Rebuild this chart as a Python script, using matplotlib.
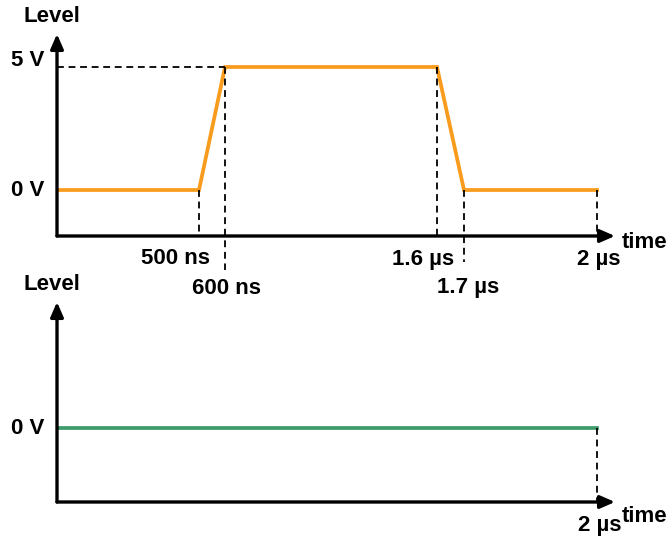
import numpy as np
import matplotlib
matplotlib.use("Agg")
import matplotlib.pyplot as plt
from matplotlib.scale import FuncScale

plt.rcParams["font.family"] = ["Liberation Sans", "DejaVu Sans"]
plt.rcParams["font.weight"] = "bold"
plt.rcParams["font.size"] = 16

# signal A: trapezoid pulse, signal B: held low
times_a = [0, 500, 600, 1600, 1700, 2000]      # ns
level_a = [0, 0, 5, 5, 0, 0]                   # V
times_b = [0, 2000]
level_b = [0, 0]

tick_times = [500, 600, 1600, 1700, 2000]
tick_labels = ["500 ns", "600 ns", "1.6 µs", "1.7 µs", "2 µs"]

ORANGE = "#F99B1C"
GREEN = "#3F9A6C"

# the time axis is drawn "not to scale": piecewise linear between events
knot_t = np.array([-2000, 0, 500, 600, 1600, 1700, 2000, 4000], float)
knot_u = np.array([-568, 0, 142, 168, 380, 407, 540, 1426], float)


def fwd(t):
    return np.interp(t, knot_t, knot_u)


def inv(u):
    return np.interp(u, knot_u, knot_t)


W, H = 670, 536
fig = plt.figure(figsize=(W / 100, H / 100), dpi=100)


def make_axes(y_axis_px, y_top_px, y_zero_px, px_per_volt=24.6):
    ax = fig.add_axes([57 / W, (H - y_axis_px) / H, 558 / W,
                       (y_axis_px - y_top_px) / H])
    ax.set_xscale(FuncScale(ax, (fwd, inv)))
    ax.set_xlim(0, inv(558))
    ax.set_ylim(-(y_axis_px - y_zero_px) / px_per_volt,
                (y_zero_px - y_top_px) / px_per_volt)
    ax.axis("off")
    arrow = dict(arrowstyle="-|>,head_length=0.55,head_width=0.24",
                 mutation_scale=16, lw=2.4, color="black",
                 shrinkA=0, shrinkB=0)
    ax.annotate("", xy=(0, 1), xytext=(0, 0), xycoords="axes fraction",
                arrowprops=arrow, annotation_clip=False)
    ax.annotate("", xy=(1, 0), xytext=(0, 0), xycoords="axes fraction",
                arrowprops=arrow, annotation_clip=False)
    ax.annotate("Level", xy=(0, 1), xycoords="axes fraction",
                xytext=(-5, 17), textcoords="offset pixels",
                ha="center", va="center")
    return ax


def label_at(ax, text, x, y, dx, dy):
    ax.annotate(text, xy=(x, y), xycoords="data", xytext=(dx, dy),
                textcoords="offset pixels", ha="center", va="center",
                annotation_clip=False)


dash = dict(color="black", lw=1.3, ls=(0, (3.8, 2.6)), clip_on=False)

# --- top panel ---
ax1 = make_axes(236, 34, 190)
y0 = ax1.get_ylim()[0]
ax1.plot(times_a, level_a, color=ORANGE, lw=2.7, solid_joinstyle="miter")
ax1.plot([0, times_a[2]], [5, 5], **dash)
px = 1 / 24.6
ax1.plot([500, 500], [0, y0], **dash)
ax1.plot([600, 600], [5, y0 - 34 * px], **dash)
ax1.plot([1600, 1600], [5, y0], **dash)
ax1.plot([1700, 1700], [0, y0 - 26 * px], **dash)
ax1.plot([2000, 2000], [0, y0], **dash)

offsets = [(-24, -22), (1, -52), (-14, -24), (4, -51), (2, -24)]
for t, lab, (dx, dy) in zip(tick_times, tick_labels, offsets):
    label_at(ax1, lab, t, y0, dx, dy)
label_at(ax1, "5 V", 0, 5, -29, 6)
label_at(ax1, "0 V", 0, 0, -29, 0)
ax1.annotate("time", xy=(1, 0), xycoords="axes fraction", xytext=(30, -6),
             textcoords="offset pixels", ha="center", va="center")

# --- bottom panel ---
ax2 = make_axes(502, 302, 428)
y0b = ax2.get_ylim()[0]
ax2.plot(times_b, level_b, color=GREEN, lw=2.7)
ax2.plot([2000, 2000], [0, y0b], **dash)
label_at(ax2, "2 µs", 2000, y0b, 3, -23)
label_at(ax2, "0 V", 0, 0, -29, 0)
ax2.annotate("time", xy=(1, 0), xycoords="axes fraction", xytext=(30, -15),
             textcoords="offset pixels", ha="center", va="center")

fig.savefig("out.png", dpi=100)
